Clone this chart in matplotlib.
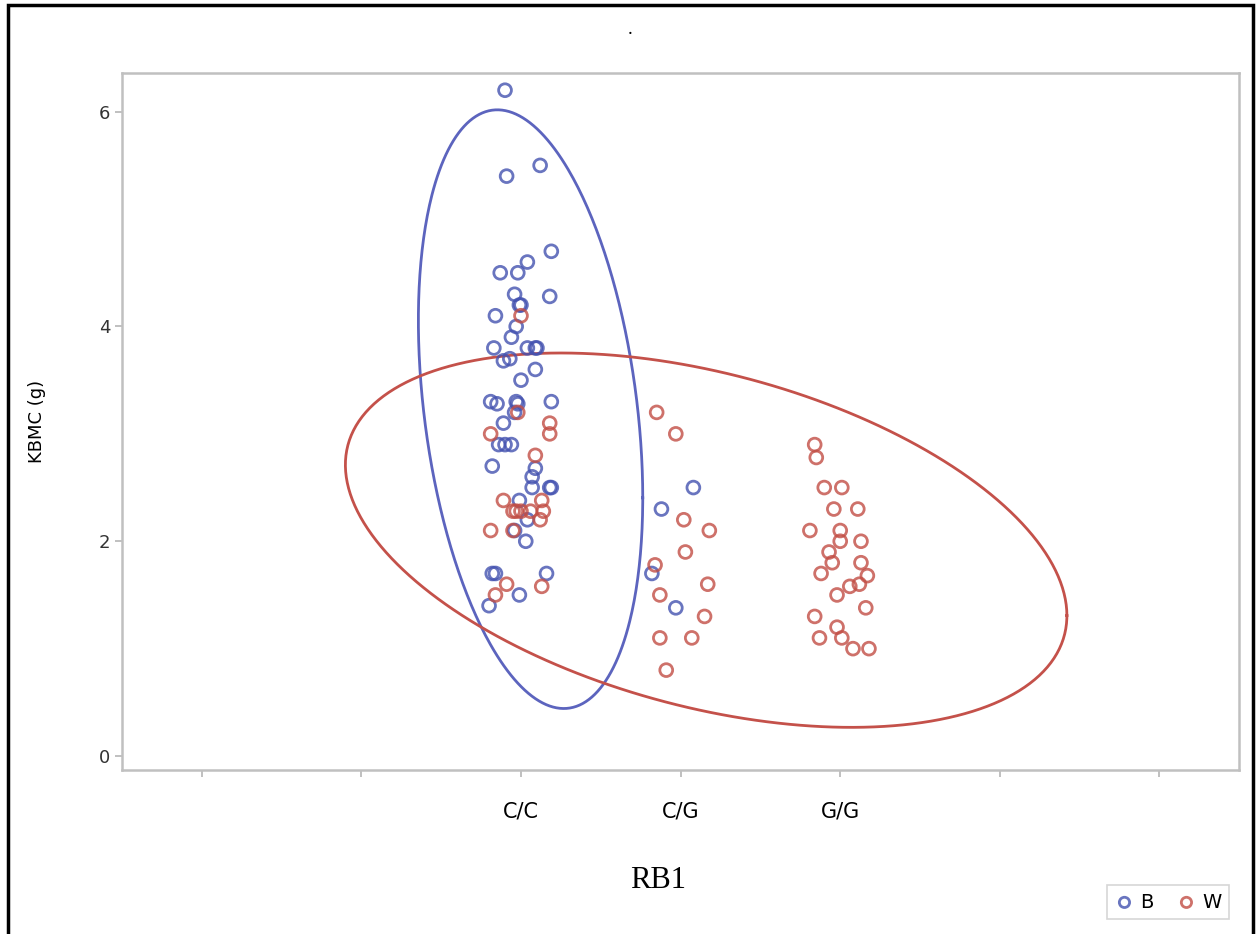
import numpy as np
import matplotlib
matplotlib.use('Agg')
import matplotlib.pyplot as plt
from matplotlib.patches import Rectangle

# categories on the x axis (ticks 1..7, labels only on 3..5)
tick_pos = [1, 2, 3, 4, 5, 6, 7]
tick_labels = ['', '', 'C/C', 'C/G', 'G/G', '', '']

# group B (blue): category position + jitter, KBMC value
b_cat = [3] * 47 + [4] * 4
b_jit = [-0.10, -0.09, 0.12, 0.19, 0.04, -0.13, -0.02, -0.04, 0.18, -0.16,
         -0.01, 0.00, -0.03, -0.06, -0.17, 0.04, 0.09, 0.10, -0.11, -0.07,
         0.09, 0.00, -0.19, -0.15, -0.03, -0.02, 0.19, -0.04, -0.11, -0.14,
         -0.10, -0.06, -0.18, 0.09, 0.07, 0.07, 0.18, 0.19, -0.01, 0.04,
         -0.04, 0.03, -0.18, -0.16, 0.16, -0.01, -0.20,
         0.08, -0.12, -0.18, -0.03]
b_val = [6.2, 5.4, 5.5, 4.7, 4.6, 4.5, 4.5, 4.3, 4.28, 4.1,
         4.2, 4.2, 4.0, 3.9, 3.8, 3.8, 3.8, 3.8, 3.68, 3.7,
         3.6, 3.5, 3.3, 3.28, 3.3, 3.28, 3.3, 3.2, 3.1, 2.9,
         2.9, 2.9, 2.7, 2.68, 2.6, 2.5, 2.5, 2.5, 2.38, 2.2,
         2.1, 2.0, 1.7, 1.7, 1.7, 1.5, 1.4,
         2.5, 2.3, 1.7, 1.38]

# group W (red)
w_cat = [3] * 19 + [4] * 12 + [5] * 25
w_jit = [0.00, -0.02, -0.19, 0.18, 0.18, 0.09, -0.11, 0.13, -0.03, 0.00,
         -0.05, 0.06, 0.14, 0.12, -0.19, -0.05, -0.09, -0.16, 0.13,
         -0.15, -0.03, 0.02, 0.18, 0.03, -0.16, 0.17, -0.13, 0.15, -0.13,
         0.07, -0.09,
         -0.16, -0.15, -0.10, 0.01, -0.04, 0.11, -0.19, 0.00, 0.00, 0.13,
         -0.07, -0.05, 0.13, 0.17, -0.12, 0.06, 0.12, -0.02, 0.16, -0.16,
         -0.02, -0.13, 0.01, 0.08, 0.18]
w_val = [4.1, 3.2, 3.0, 3.1, 3.0, 2.8, 2.38, 2.38, 2.28, 2.28,
         2.28, 2.28, 2.28, 2.2, 2.1, 2.1, 1.6, 1.5, 1.58,
         3.2, 3.0, 2.2, 2.1, 1.9, 1.78, 1.6, 1.5, 1.3, 1.1,
         1.1, 0.8,
         2.9, 2.78, 2.5, 2.5, 2.3, 2.3, 2.1, 2.1, 2.0, 2.0,
         1.9, 1.8, 1.8, 1.68, 1.7, 1.58, 1.6, 1.5, 1.38, 1.3,
         1.2, 1.1, 1.1, 1.0, 1.0]

# ellipse parameters (centre, covariance-like matrix) in data units
b_center = (3.06, 3.23)
b_cov = [[0.494, -0.58], [-0.58, 7.77]]
w_center = (4.16, 2.01)
w_cov = [[5.108, -1.586], [-1.586, 3.038]]

blue = '#4452b0'
red = '#c24e45'
blue_line = '#5c64be'
red_line = '#c4514a'


def ellipse_pts(center, cov, n=400):
    t = np.linspace(0, 2 * np.pi, n)
    L = np.linalg.cholesky(np.array(cov))
    circ = np.vstack([np.cos(t), np.sin(t)])
    pts = L @ circ
    return center[0] + pts[0], center[1] + pts[1]


fig = plt.figure(figsize=(12.57, 9.34), dpi=100)
ax = fig.add_axes([0.097, 0.1756, 0.8889, 0.7462])

bx = np.array(b_cat) + np.array(b_jit)
wx = np.array(w_cat) + np.array(w_jit)

ax.scatter(bx, b_val, s=85, facecolors='none', edgecolors=blue,
           linewidths=2.0, alpha=0.8, zorder=3, label='B')
ax.scatter(wx, w_val, s=85, facecolors='none', edgecolors=red,
           linewidths=2.0, alpha=0.8, zorder=3, label='W')

ex, ey = ellipse_pts(b_center, b_cov)
ax.plot(ex, ey, color=blue_line, lw=2, zorder=2)
ex, ey = ellipse_pts(w_center, w_cov)
ax.plot(ex, ey, color=red_line, lw=2, zorder=2)

ax.set_xlim(0.5, 7.5)
ax.set_ylim(-0.13, 6.36)
ax.set_xticks(tick_pos)
ax.set_xticklabels(tick_labels, fontsize=15,
                   family=['Liberation Sans Narrow', 'DejaVu Sans'])
ax.set_yticks([0, 2, 4, 6])
ax.set_yticklabels(['0', '2', '4', '6'], fontsize=13, color='#333333')
ax.tick_params(axis='both', direction='out', length=5, color='#b5b5b5', width=1.2)
ax.tick_params(axis='x', pad=18)
ax.set_ylabel('KBMC (g)', fontsize=13, labelpad=38)
for sp in ax.spines.values():
    sp.set_color('#c0c0c0')
    sp.set_linewidth(1.8)

fig.text(630 / 1257, 1 - 30 / 934, '.', ha='center', va='center',
         fontsize=14, family='Liberation Serif')
fig.text(658 / 1257, 1 - 880 / 934, 'RB1', ha='center', va='center',
         fontsize=22, family='Liberation Serif')

leg = fig.legend(loc='center', bbox_to_anchor=(1168 / 1257, 1 - 902 / 934),
                 ncol=2, fontsize=14, frameon=True, fancybox=False,
                 handletextpad=0.3, columnspacing=1.2, borderpad=0.4,
                 handlelength=1.0, markerscale=0.8)
leg.get_frame().set_edgecolor('#cccccc')
leg.get_frame().set_linewidth(1.2)

# outer black frame
fig.patches.append(Rectangle((8 / 1257, -0.01), 1245 / 1257, 1 - 5 / 934 + 0.01,
                             transform=fig.transFigure, fill=False,
                             edgecolor='black', lw=2.5))

fig.savefig('out.png', dpi=100)
